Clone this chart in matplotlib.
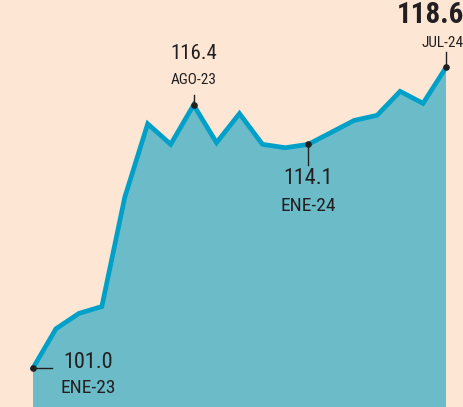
import matplotlib.pyplot as plt

months = ['ENE-23', 'FEB-23', 'MAR-23', 'ABR-23', 'MAY-23', 'JUN-23', 'JUL-23',
          'AGO-23', 'SEP-23', 'OCT-23', 'NOV-23', 'DIC-23', 'ENE-24', 'FEB-24',
          'MAR-24', 'ABR-24', 'MAY-24', 'JUN-24', 'JUL-24']
values = [101.0, 103.3, 104.2, 104.6, 111.0, 115.3, 114.1, 116.4, 114.2, 115.9,
          114.1, 113.9, 114.1, 114.8, 115.5, 115.8, 117.2, 116.5, 118.6]

bg = '#fde7d4'
fill_col = '#6bbcc8'
line_col = '#00a0c8'
ink = '#231f20'
font = ['Roboto Condensed', 'Liberation Sans Narrow', 'DejaVu Sans']

fig = plt.figure(figsize=(4.64, 4.07), dpi=100, facecolor=bg)
ax = fig.add_axes([0, 0, 1, 1])
ax.set_facecolor(bg)

x = list(range(len(values)))
ax.fill_between(x, values, 90, color=fill_col, lw=0, zorder=1)
ax.plot(x, values, color=line_col, lw=3.4, solid_joinstyle='miter', zorder=2)

ax.set_xlim(-1.438, 18.785)
ax.set_ylim(98.72, 122.55)
ax.axis('off')

# highlighted points
for i in [0, 7, 12, 18]:
    ax.scatter(i, values[i], s=14, color=ink, zorder=4)

kw = dict(family=font, stretch='condensed', ha='center', va='center', color=ink)

# ENE-23
ax.plot([0, 0.83], [values[0], values[0]], color=ink, lw=1, zorder=3)
ax.text(2.4, values[0] + 0.35, '101.0', fontsize=16, **kw)
ax.text(2.4, values[0] - 1.17, months[0], fontsize=14, **kw)

# AGO-23
ax.plot([7, 7], [values[7], values[7] + 0.6], color=ink, lw=1, zorder=3)
ax.text(7, values[7] + 3.04, '116.4', fontsize=15, **kw)
ax.text(7, values[7] + 1.46, months[7], fontsize=11, **kw)

# ENE-24
ax.plot([12, 12], [values[12], values[12] - 1.2], color=ink, lw=1, zorder=3)
ax.text(12, values[12] - 1.98, '114.1', fontsize=16, **kw)
ax.text(12, values[12] - 3.62, months[12], fontsize=14, **kw)

# JUL-24
kw_r = dict(kw, ha='right')
ax.plot([18, 18], [values[18], values[18] + 0.9], color=ink, lw=1, zorder=3)
ax.text(18.78, values[18] + 1.43, months[18], fontsize=11, **kw_r)
ax.text(18.8, values[18] + 3.07, '118.6', fontsize=21, weight='bold', **kw_r)

fig.savefig('out.png', dpi=100, facecolor=bg)
